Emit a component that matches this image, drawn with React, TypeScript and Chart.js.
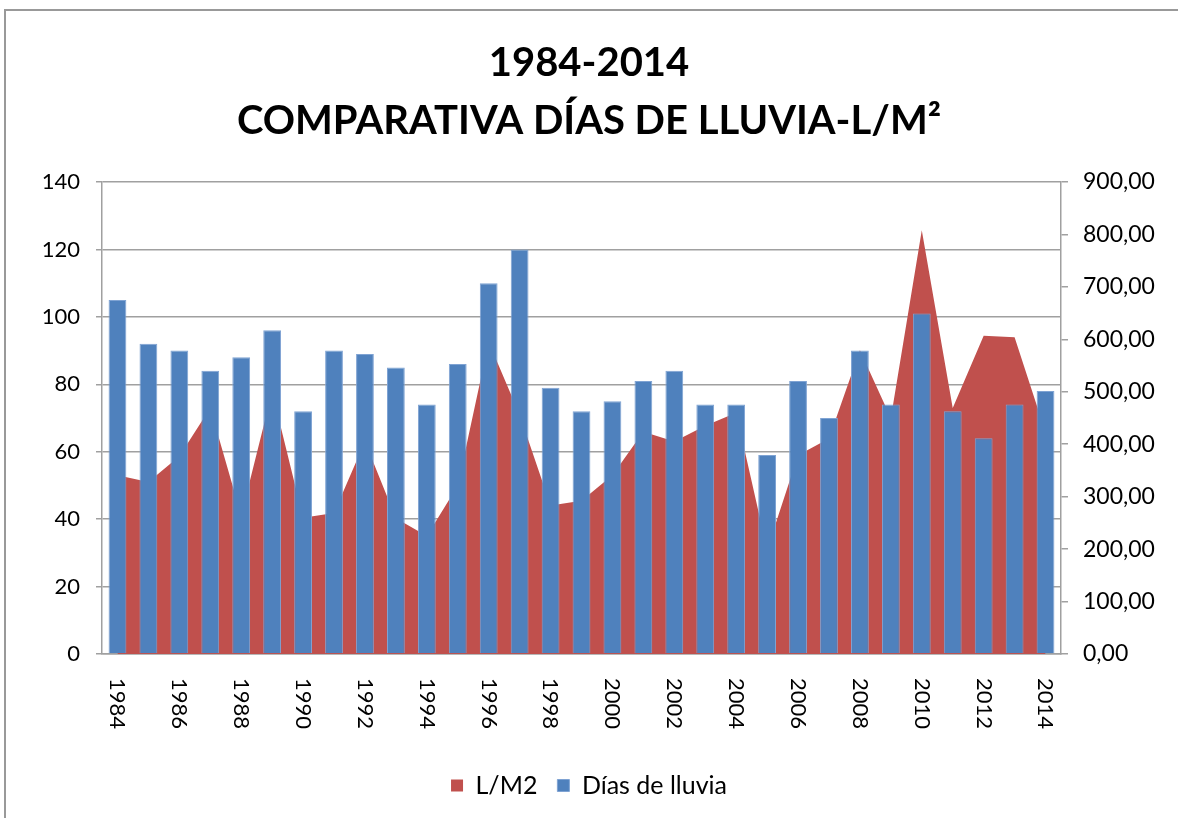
import React, { useEffect, useRef } from "react";
import { Chart, registerables } from "chart.js";

Chart.register(...registerables);

const years: string[] = [
  "1984", "1985", "1986", "1987", "1988", "1989", "1990", "1991", "1992", "1993",
  "1994", "1995", "1996", "1997", "1998", "1999", "2000", "2001", "2002", "2003",
  "2004", "2005", "2006", "2007", "2008", "2009", "2010", "2011", "2012", "2013", "2014",
];

// Días de lluvia (left axis)
const diasLluvia: number[] = [
  105, 92, 90, 84, 88, 96, 72, 90, 89, 85,
  74, 86, 110, 120, 79, 72, 75, 81, 84, 74,
  74, 59, 81, 70, 90, 74, 101, 72, 64, 74, 78,
];

// L/M2 (right axis)
const litrosM2: number[] = [
  341, 328, 377, 469, 264, 500, 260, 269, 405, 259,
  225, 321, 595, 456, 283, 292, 341, 424, 405, 435,
  460, 199, 379, 411, 579, 450, 808, 469, 607, 604, 423,
];

const titleLines: string[] = ["1984-2014", "COMPARATIVA DÍAS DE LLUVIA-L/M²"];
const seriesNames: string[] = ["L/M2", "Días de lluvia"];

const FONT = "Lato, 'Open Sans', sans-serif";

const rotatedXLabels = {
  id: "rotatedXLabels",
  afterDraw(chart: any) {
    const xs = chart.scales.x;
    const ctx = chart.ctx;
    ctx.save();
    ctx.fillStyle = "#000";
    ctx.font = `22px ${FONT}`;
    ctx.textAlign = "left";
    ctx.textBaseline = "middle";
    years.forEach((lab, i) => {
      if (i % 2 !== 0) return;
      const x = xs.getPixelForValue(i);
      ctx.save();
      ctx.translate(x, chart.chartArea.bottom + 24);
      ctx.rotate(Math.PI / 2);
      ctx.fillText(lab, 0, 0);
      ctx.restore();
    });
    ctx.restore();
  },
};

export default function App() {
  const ref = useRef<HTMLCanvasElement | null>(null);

  useEffect(() => {
    if (!ref.current) return;
    const chart = new Chart(ref.current, {
      type: "bar",
      data: {
        labels: years,
        datasets: [
          {
            type: "line",
            label: seriesNames[0],
            data: litrosM2,
            yAxisID: "y1",
            backgroundColor: "#C0504D",
            borderColor: "#C0504D",
            borderWidth: 0,
            pointRadius: 0,
            tension: 0,
            fill: "origin",
            order: 1,
          } as any,
          {
            type: "bar",
            label: seriesNames[1],
            data: diasLluvia,
            yAxisID: "y",
            backgroundColor: "#4F81BD",
            borderColor: "#7FA3D3",
            borderWidth: 1,
            categoryPercentage: 1,
            barPercentage: 0.575,
            order: 0,
          },
        ],
      },
      options: {
        animation: false,
        responsive: false,
        maintainAspectRatio: false,
        layout: { padding: { left: 0, right: 0, top: 0, bottom: 10 } },
        plugins: {
          title: {
            display: true,
            text: titleLines,
            color: "#000",
            font: { family: FONT, size: 40, weight: "bold", lineHeight: 1.45 },
            padding: { top: 34, bottom: 32 },
          },
          legend: {
            display: true,
            position: "bottom",
            labels: {
              color: "#000",
              font: { family: FONT, size: 25 },
              boxWidth: 12,
              boxHeight: 12,
              padding: 20,
              sort: (a: any, b: any) => a.datasetIndex - b.datasetIndex,
            },
          },
          tooltip: { enabled: false },
        },
        scales: {
          x: {
            grid: { display: false },
            border: { display: true, color: "#A0A0A0", width: 1.5 },
            ticks: { display: false },
            afterFit: (s: any) => {
              s.height = 99;
            },
          },
          y: {
            position: "left",
            min: 0,
            max: 140,
            ticks: {
              stepSize: 20,
              color: "#000",
              font: { family: FONT, size: 22 },
              padding: 16,
            },
            grid: { color: "#A0A0A0", lineWidth: 1.5, tickLength: 6, drawTicks: true },
            border: { display: true, color: "#A0A0A0", width: 1.5 },
            afterFit: (s: any) => {
              s.width = 102;
            },
          },
          y1: {
            position: "right",
            min: 0,
            max: 900,
            ticks: {
              stepSize: 100,
              color: "#000",
              font: { family: FONT, size: 23 },
              padding: 15,
              callback: (v: any) => Number(v).toFixed(2).replace(".", ","),
            },
            grid: { drawOnChartArea: false, color: "#A0A0A0", tickLength: 7, lineWidth: 1.5 },
            border: { display: true, color: "#A0A0A0", width: 1.5 },
            afterFit: (s: any) => {
              s.width = 117;
            },
          },
        },
      },
      plugins: [rotatedXLabels],
    });
    return () => chart.destroy();
  }, []);

  return (
    <div style={{ position: "absolute", left: 0, top: 0, width: 1178, height: 818, background: "#fff", overflow: "hidden" }}>
      <div
        style={{
          position: "absolute",
          left: 4,
          top: 9,
          width: 1200,
          height: 900,
          borderLeft: "2px solid #999",
          borderTop: "2px solid #999",
        }}
      />
      <canvas ref={ref} width={1178} height={818} style={{ position: "absolute", left: 0, top: 0 }} />
    </div>
  );
}
